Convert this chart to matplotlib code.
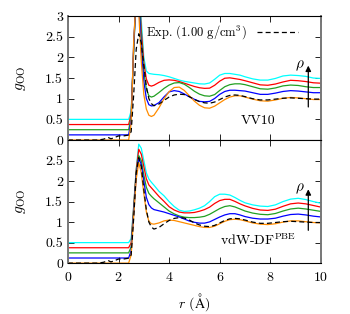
import matplotlib
matplotlib.use("Agg")
import matplotlib.pyplot as plt
from matplotlib.patches import FancyArrowPatch
import numpy as np

plt.rcParams['font.family'] = 'serif'
plt.rcParams['font.serif'] = ['cmr10', 'DejaVu Serif']
plt.rcParams['mathtext.fontset'] = 'cm'
plt.rcParams['axes.formatter.use_mathtext'] = True
plt.rcParams['font.size'] = 10

# r grid (Angstrom) shared by the simulated curves
r_sim = [0, 2.4, 2.5, 2.6, 2.7, 2.8, 2.9, 3.0, 3.1, 3.2, 3.3, 3.4, 3.6, 3.8, 4.0,
         4.2, 4.4, 4.6, 4.8, 5.0, 5.2, 5.4, 5.6, 5.8, 6.0, 6.2, 6.4, 6.6, 6.8,
         7.0, 7.3, 7.6, 7.9, 8.2, 8.5, 8.8, 9.1, 9.4, 9.7, 10.0]

# experiment (same in both panels)
r_exp = [0, 1.2, 1.4, 1.6, 1.7, 1.8, 2.0, 2.2, 2.4, 2.5, 2.6, 2.7, 2.8, 2.9, 3.0,
         3.1, 3.2, 3.3, 3.4, 3.6, 3.8, 4.0, 4.2, 4.4, 4.6, 4.8, 5.0, 5.2, 5.4,
         5.6, 5.8, 6.0, 6.2, 6.4, 6.6, 6.8, 7.0, 7.3, 7.6, 7.9, 8.2, 8.5, 8.8,
         9.1, 9.4, 9.7, 10.0]
g_exp = [0, 0, 0.02, 0.06, 0.03, 0.05, 0.1, 0.1, 0.12, 0.2, 1.1, 2.2, 2.57, 2.35, 1.8,
         1.3, 1.0, 0.88, 0.83, 0.87, 0.96, 1.04, 1.09, 1.11, 1.1, 1.05, 0.98, 0.93, 0.9,
         0.89, 0.92, 0.98, 1.04, 1.08, 1.09, 1.08, 1.05, 1.0, 0.97, 0.97, 0.99, 1.01, 1.02,
         1.01, 1.0, 0.99, 0.99]

# densities: lowest -> highest, each shifted up by an offset
colors = ['darkorange', 'blue', '#22a022', 'red', 'cyan']
offsets = [0.0, 0.125, 0.25, 0.375, 0.5]

# VV10 panel
vv10 = [
    [0, 0, 0.4, 2.4, 3.5, 3.1, 1.9, 1.1, 0.75, 0.6, 0.57, 0.6, 0.78, 1.0, 1.17,
     1.27, 1.28, 1.2, 1.07, 0.94, 0.84, 0.78, 0.77, 0.82, 0.9, 0.98, 1.04, 1.07, 1.07,
     1.04, 0.99, 0.95, 0.94, 0.97, 1.01, 1.03, 1.02, 1.0, 0.98, 0.98],
    [0, 0, 0.35, 2.2, 3.4, 3.3, 2.1, 1.3, 0.88, 0.73, 0.7, 0.71, 0.78, 0.92, 1.04,
     1.07, 1.05, 0.99, 0.92, 0.86, 0.81, 0.8, 0.81, 0.88, 0.98, 1.05, 1.08, 1.08, 1.07,
     1.06, 1.02, 0.98, 0.98, 1.01, 1.05, 1.07, 1.06, 1.04, 1.02, 1.02],
    [0, 0, 0.3, 2.0, 3.3, 3.4, 2.2, 1.4, 0.98, 0.82, 0.79, 0.81, 0.9, 1.0, 1.08,
     1.13, 1.14, 1.1, 1.02, 0.93, 0.86, 0.82, 0.81, 0.85, 0.95, 1.04, 1.09, 1.11, 1.11,
     1.09, 1.04, 0.99, 0.98, 1.01, 1.06, 1.08, 1.07, 1.04, 1.02, 1.02],
    [0, 0, 0.25, 1.8, 3.2, 3.4, 2.3, 1.5, 1.1, 0.95, 0.93, 0.95, 1.02, 1.07, 1.08,
     1.07, 1.04, 1.0, 0.96, 0.92, 0.89, 0.875, 0.88, 0.95, 1.05, 1.12, 1.13, 1.11, 1.09,
     1.06, 1.01, 0.96, 0.95, 0.98, 1.03, 1.07, 1.06, 1.04, 1.01, 1.0],
    [0, 0, 0.2, 1.6, 3.1, 3.4, 2.4, 1.5, 1.17, 1.11, 1.1, 1.09, 1.08, 1.06, 1.03,
     0.99, 0.95, 0.92, 0.9, 0.88, 0.86, 0.855, 0.88, 0.97, 1.07, 1.11, 1.11, 1.09, 1.07,
     1.03, 0.98, 0.95, 0.95, 0.99, 1.05, 1.07, 1.06, 1.04, 1.0, 0.99],
]

# vdW-DF^PBE panel
vdwdf = [
    [0, 0, 0.2, 1.15, 2.05, 2.45, 2.2, 1.7, 1.25, 1.02, 0.96, 0.95, 0.98, 1.03, 1.05,
     1.04, 1.01, 0.98, 0.95, 0.92, 0.89, 0.87, 0.87, 0.9, 0.96, 1.02, 1.06, 1.07, 1.06,
     1.03, 0.98, 0.95, 0.94, 0.96, 1.0, 1.03, 1.03, 1.01, 0.99, 0.98],
    [0, 0, 0.18, 1.1, 2.0, 2.43, 2.28, 1.88, 1.48, 1.3, 1.22, 1.18, 1.15, 1.12, 1.08,
     1.04, 1.0, 0.95, 0.9, 0.87, 0.85, 0.85, 0.88, 0.94, 1.0, 1.05, 1.08, 1.08, 1.05,
     1.01, 0.97, 0.95, 0.95, 0.97, 1.02, 1.06, 1.07, 1.05, 1.02, 1.0],
    [0, 0, 0.15, 1.05, 1.95, 2.37, 2.25, 1.9, 1.6, 1.45, 1.38, 1.32, 1.22, 1.12, 1.02,
     0.95, 0.9, 0.87, 0.86, 0.86, 0.87, 0.89, 0.94, 1.01, 1.08, 1.13, 1.15, 1.12, 1.07,
     1.02, 0.97, 0.94, 0.93, 0.96, 1.02, 1.07, 1.09, 1.07, 1.04, 1.01],
    [0, 0, 0.12, 1.0, 1.9, 2.4, 2.28, 1.98, 1.68, 1.53, 1.46, 1.39, 1.25, 1.13, 1.0,
     0.92, 0.87, 0.85, 0.85, 0.86, 0.89, 0.93, 0.99, 1.08, 1.15, 1.18, 1.18, 1.13, 1.07,
     1.02, 0.96, 0.92, 0.91, 0.94, 1.01, 1.07, 1.09, 1.07, 1.03, 0.99],
    [0, 0, 0.1, 0.9, 1.8, 2.4, 2.3, 2.0, 1.7, 1.55, 1.47, 1.4, 1.25, 1.14, 1.0,
     0.88, 0.79, 0.76, 0.77, 0.8, 0.84, 0.9, 1.0, 1.12, 1.18, 1.18, 1.16, 1.1, 1.03,
     0.97, 0.92, 0.89, 0.88, 0.92, 1.0, 1.06, 1.08, 1.05, 1.0, 0.96],
]

fig = plt.figure(figsize=(3.5, 3.14), dpi=100)
ax1 = fig.add_axes([0.194, 0.554, 0.723, 0.395])
ax2 = fig.add_axes([0.194, 0.162, 0.723, 0.392])

for ax, curves, name, ny in [(ax1, vv10, 'VV10', 0.45), (ax2, vdwdf, r'vdW-DF$^{\rm PBE}$', 0.55)]:
    # highest density first so the orange curve ends up on top
    for g, c, off in reversed(list(zip(curves, colors, offsets))):
        ax.plot(r_sim, np.array(g) + off, color=c, lw=0.9)
    ax.plot(r_exp, g_exp, color='black', ls=(0, (4, 2.5)), lw=0.9,
            label=r'Exp. (1.00 g/cm$^3$)')
    ax.set_xlim(0, 10)
    ax.set_ylim(0, 3)
    ax.set_xticks([0, 2, 4, 6, 8, 10])
    ax.tick_params(direction='in', top=True, right=True, length=4, width=0.6)
    ax.tick_params(axis='x', pad=6)
    ax.set_ylabel(r'$g_{\rm OO}$', fontsize=11, labelpad=12)
    for s in ['left', 'right']:
        ax.spines[s].set_color('#777777')
        ax.spines[s].set_linewidth(1.4)
    ax.text(7.5, ny, name, ha='center', va='center', fontsize=10)
    arr = FancyArrowPatch((9.5, 0.8), (9.5, 1.8), arrowstyle='-|>',
                          mutation_scale=8, color='black', lw=0.9,
                          shrinkA=0, shrinkB=0, zorder=5)
    ax.add_patch(arr)
    ax.text(9.15, 1.8, r'$\rho$', ha='center', va='center', fontsize=11)

ax1.set_yticks([0, 0.5, 1, 1.5, 2, 2.5, 3])
ax1.set_yticklabels(['0', '0.5', '1', '1.5', '2', '2.5', '3'])
ax1.tick_params(labelbottom=False)
ax1.legend(loc='upper right', frameon=False, markerfirst=False, handlelength=3.3,
           fontsize=9, borderaxespad=0.2, bbox_to_anchor=(0.94, 1.0))

ax2.set_yticks([0, 0.5, 1, 1.5, 2, 2.5])
ax2.set_yticklabels(['0', '0.5', '1', '1.5', '2', '2.5'])
ax2.set_xlabel(r'$r$ ($\mathrm{\AA}$)', fontsize=10, labelpad=5)

fig.savefig('out.png', dpi=100)
